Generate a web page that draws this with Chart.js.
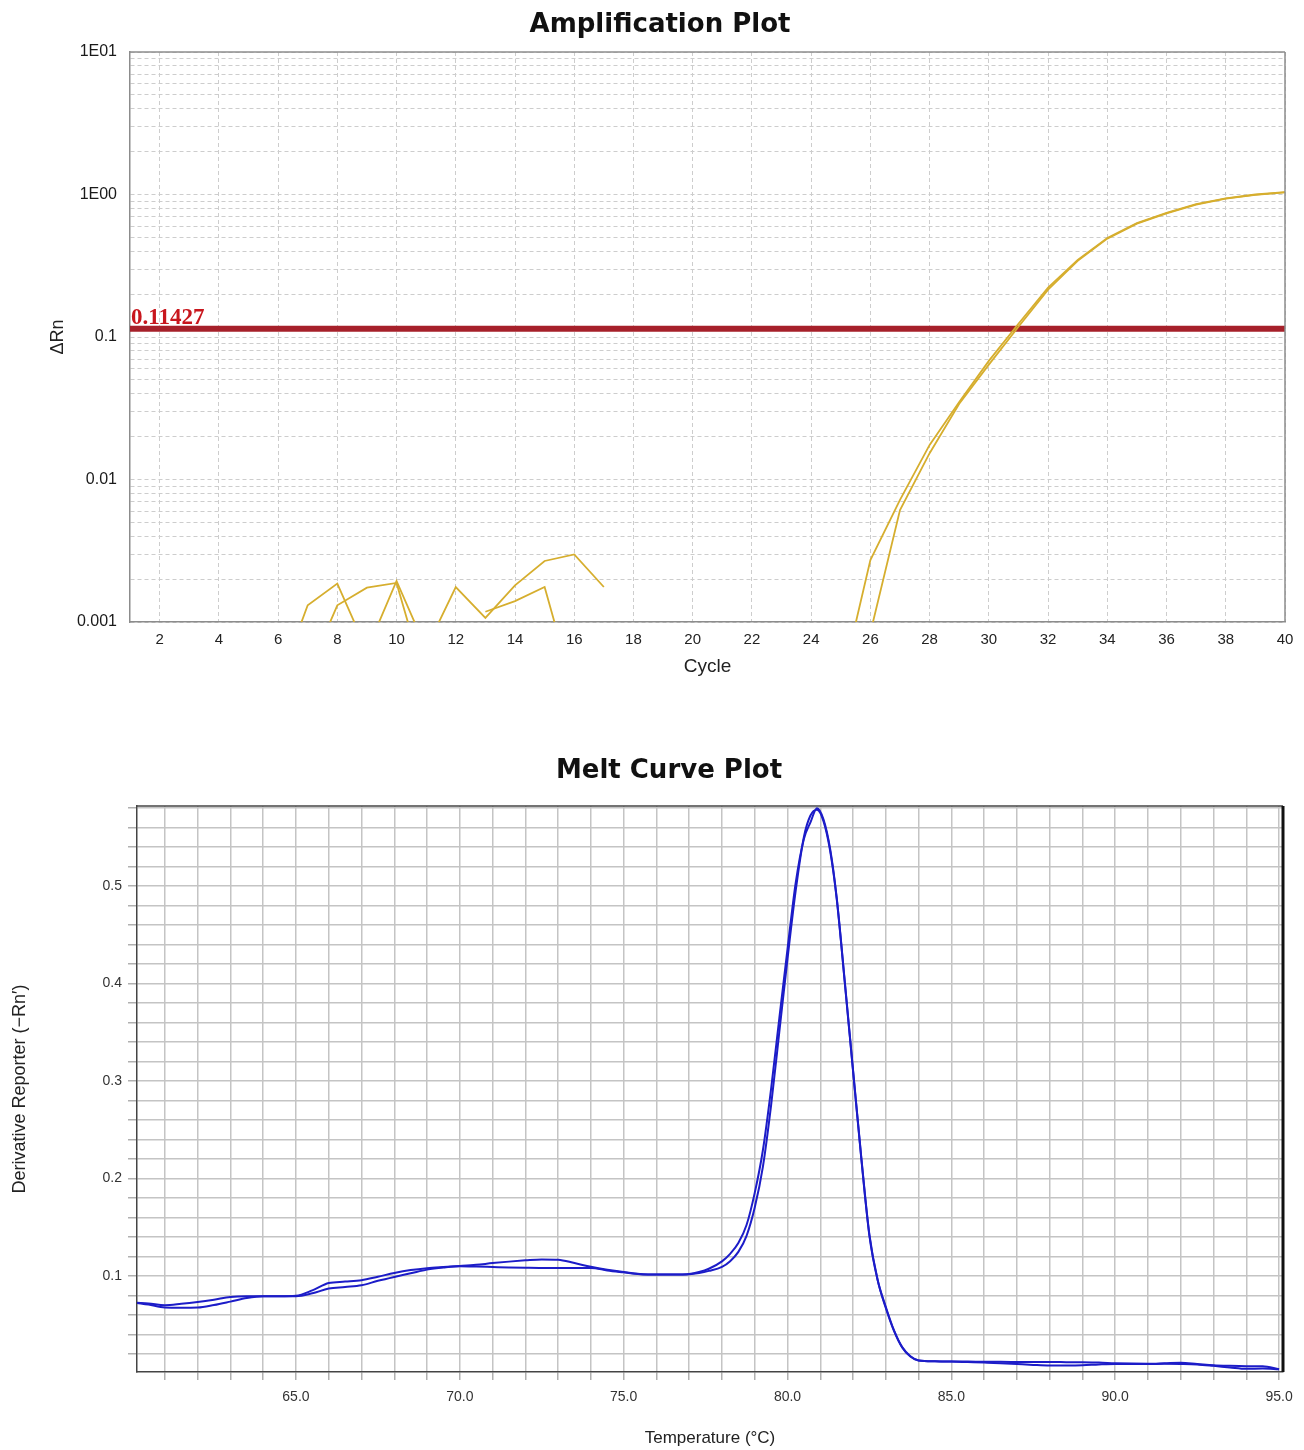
<!DOCTYPE html>
<html>
<head>
<meta charset="utf-8">
<title>Amplification and Melt Curve Plots</title>
<script src="https://cdn.jsdelivr.net/npm/chart.js@4.4.1/dist/chart.umd.min.js"></script>
<style>
  html, body { margin: 0; padding: 0; background: #ffffff; }
  #page { position: relative; width: 1304px; height: 1450px; overflow: hidden; background: #ffffff; }
  canvas { position: absolute; left: 0; }
  .plot-title {
    position: absolute;
    font: bold 26px "DejaVu Sans", Verdana, sans-serif;
    line-height: 1;
    color: #111111;
    white-space: nowrap;
    transform: translate(-50%, -50%);
  }
</style>
</head>
<body>
<div id="page">
  <canvas id="amp" width="1304" height="700" style="top:0px"></canvas>
  <canvas id="melt" width="1304" height="750" style="top:700px"></canvas>
  <div class="plot-title" style="left:660px; top:23px">Amplification Plot</div>
  <div class="plot-title" style="left:669px; top:769px">Melt Curve Plot</div>
</div>
<script>
// ---------- Amplification plot data (ΔRn per cycle, log scale) ----------
const cycles = [1, 2, 3, 4, 5, 6, 7, 8, 9, 10, 11, 12, 13, 14, 15, 16, 17, 18, 19, 20,
                21, 22, 23, 24, 25, 26, 27, 28, 29, 30, 31, 32, 33, 34, 35, 36, 37, 38, 39, 40];

// null = non-positive ΔRn, not drawable on a log axis
const sampleA = [null, null, null, null, null, 0.00036, 0.00131, 0.00186, 0.00063, 0.00194,
                 0.00065, 0.00176, 0.00107, 0.00181, 0.00268, 0.00298, 0.00176, null, null, null,
                 null, null, null, null, 0.00035, 0.00272, 0.0072, 0.0175, 0.035, 0.068,
                 0.124, 0.222, 0.348, 0.495, 0.63, 0.742, 0.855, 0.94, 1.0, 1.04];

const sampleB = [null, null, null, null, null, null, 0.00043, 0.00131, 0.00174, 0.00188,
                 0.00036, null, 0.00118, 0.0014, 0.00176, 0.00032, null, null, null, null,
                 null, null, null, null, null, 0.00084, 0.0061, 0.0153, 0.034, 0.064,
                 0.118, 0.215, 0.342, 0.49, 0.625, 0.737, 0.85, 0.935, 0.995, 1.035];

const threshold = 0.11427;
const thresholdText = "0.11427";

const cycleTicks = [2, 4, 6, 8, 10, 12, 14, 16, 18, 20, 22, 24, 26, 28, 30, 32, 34, 36, 38, 40];
const deltaRnDecades = [0.001, 0.01, 0.1, 1, 10];
const deltaRnDecadeLabels = ["0.001", "0.01", "0.1", "1E00", "1E01"];
const logMultipliers = [1, 2, 3, 4, 5, 6, 7, 8, 9];

// ---------- Melt curve data (derivative reporter vs temperature) ----------
const tempC = [60.15, 60.5, 61, 61.5, 62, 62.5, 63, 63.5, 64, 64.5,
               65, 65.5, 66, 66.5, 67, 67.5, 68, 68.5, 69, 69.5,
               70, 70.5, 71, 71.5, 72, 72.5, 73, 73.5, 74, 74.5,
               75, 75.5, 76, 76.5, 77, 77.3, 77.6, 78, 78.25, 78.5,
               78.75, 79, 79.25, 79.5, 79.75, 80, 80.25, 80.5, 80.7, 80.9,
               81.1, 81.3, 81.5, 81.75, 82, 82.25, 82.5, 82.75, 83, 83.25,
               83.5, 83.75, 84, 84.5, 85, 85.5, 86, 86.5, 87, 87.5,
               88, 88.5, 89, 89.5, 90, 90.5, 91, 91.5, 92, 92.5,
               93, 93.5, 94, 94.5, 95];

const meltA = [0.0722, 0.0716, 0.0698, 0.0712, 0.0731, 0.0755, 0.0783, 0.0790, 0.0790, 0.0790,
               0.0795, 0.0850, 0.0925, 0.0940, 0.0955, 0.0990, 0.1028, 0.1058, 0.1078, 0.1090,
               0.1100, 0.1112, 0.1130, 0.1145, 0.1158, 0.1168, 0.1165, 0.1130, 0.1092, 0.1062,
               0.1038, 0.1018, 0.1012, 0.1012, 0.1018, 0.1038, 0.1072, 0.1148, 0.1225, 0.1335,
               0.1520, 0.1850, 0.2290, 0.2920, 0.3640, 0.4350, 0.5030, 0.5480, 0.5650, 0.5796,
               0.5680, 0.5380, 0.4880, 0.4010, 0.3110, 0.2220, 0.1420, 0.0960, 0.0680, 0.0440,
               0.0268, 0.0175, 0.0132, 0.0123, 0.0120, 0.0120, 0.0117, 0.0117, 0.0116, 0.0115,
               0.0115, 0.0114, 0.0113, 0.0110, 0.0103, 0.0099, 0.0098, 0.0103, 0.0109, 0.0096,
               0.0082, 0.0076, 0.0073, 0.0072, 0.0042];

const meltB = [0.0722, 0.0705, 0.0674, 0.0672, 0.0674, 0.0700, 0.0735, 0.0772, 0.0790, 0.0790,
               0.0790, 0.0820, 0.0869, 0.0885, 0.0903, 0.0948, 0.0988, 0.1025, 0.1063, 0.1085,
               0.1098, 0.1095, 0.1090, 0.1085, 0.1082, 0.1080, 0.1080, 0.1080, 0.1080, 0.1055,
               0.1035, 0.1016, 0.1012, 0.1012, 0.1015, 0.1028, 0.1050, 0.1092, 0.1150, 0.1245,
               0.1410, 0.1700, 0.2120, 0.2750, 0.3500, 0.4250, 0.4950, 0.5500, 0.5720, 0.5780,
               0.5660, 0.5360, 0.4870, 0.4000, 0.3100, 0.2210, 0.1410, 0.0955, 0.0670, 0.0435,
               0.0265, 0.0172, 0.0130, 0.0122, 0.0120, 0.0115, 0.0110, 0.0104, 0.0095, 0.0086,
               0.0080, 0.0080, 0.0082, 0.0090, 0.0095, 0.0095, 0.0095, 0.0097, 0.0095, 0.0090,
               0.0076, 0.0060, 0.0046, 0.0048, 0.0040];

const tempGridTicks = [61, 62, 63, 64, 65, 66, 67, 68, 69, 70, 71, 72, 73, 74, 75, 76, 77, 78,
                       79, 80, 81, 82, 83, 84, 85, 86, 87, 88, 89, 90, 91, 92, 93, 94, 95];
const tempLabelTicks = [65, 70, 75, 80, 85, 90, 95];
const derivGridTicks = [0.02, 0.04, 0.06, 0.08, 0.10, 0.12, 0.14, 0.16, 0.18, 0.20,
                        0.22, 0.24, 0.26, 0.28, 0.30, 0.32, 0.34, 0.36, 0.38, 0.40,
                        0.42, 0.44, 0.46, 0.48, 0.50, 0.52, 0.54, 0.56, 0.58];
const derivLabelTicks = [0.1, 0.2, 0.3, 0.4, 0.5];

// ---------- helpers ----------
const near = (a, b) => Math.abs(a - b) < 1e-9 * Math.max(1, Math.abs(b));
const toPoints = (xs, ys) => xs.map((x, i) => ({ x: x, y: ys[i] }));

const deltaRnTicks = [];
deltaRnDecades.forEach((d, i) => {
  if (i === deltaRnDecades.length - 1) { deltaRnTicks.push(d); return; }
  logMultipliers.forEach(m => deltaRnTicks.push(parseFloat((m * d).toPrecision(6))));
});

const sansFont = '"Liberation Sans", Arial, sans-serif';

// Closes the plot frame on the top and right sides
function framePlugin(topColor, topWidth, rightColor, rightWidth) {
  return {
    id: 'plotFrame',
    afterDraw(chart) {
      const { ctx, chartArea: a } = chart;
      ctx.save();
      ctx.strokeStyle = topColor; ctx.lineWidth = topWidth;
      ctx.beginPath(); ctx.moveTo(a.left, a.top); ctx.lineTo(a.right, a.top); ctx.stroke();
      ctx.strokeStyle = rightColor; ctx.lineWidth = rightWidth;
      ctx.beginPath(); ctx.moveTo(a.right, a.top); ctx.lineTo(a.right, a.bottom); ctx.stroke();
      ctx.restore();
    }
  };
}

// Writes the threshold value just above the threshold line
const thresholdLabelPlugin = {
  id: 'thresholdLabel',
  afterDatasetsDraw(chart) {
    const { ctx, chartArea: a, scales } = chart;
    const y = scales.y.getPixelForValue(threshold);
    ctx.save();
    ctx.font = 'bold 23px "Liberation Serif", "Times New Roman", serif';
    ctx.fillStyle = '#c8161d';
    ctx.textAlign = 'left';
    ctx.textBaseline = 'alphabetic';
    ctx.fillText(thresholdText, a.left + 1, y - 5);
    ctx.restore();
  }
};

// ---------- Amplification plot ----------
const gold = '#d6ae2e';
new Chart(document.getElementById('amp'), {
  type: 'line',
  data: {
    datasets: [
      { label: 'Sample A', data: toPoints(cycles, sampleA), borderColor: gold, borderWidth: 1.8,
        pointRadius: 0, tension: 0, spanGaps: false },
      { label: 'Sample B', data: toPoints(cycles, sampleB), borderColor: gold, borderWidth: 1.8,
        pointRadius: 0, tension: 0, spanGaps: false },
      { label: 'Threshold',
        data: [{ x: cycles[0], y: threshold }, { x: cycles[cycles.length - 1], y: threshold }],
        borderColor: '#a6202a', borderWidth: 6, pointRadius: 0 }
    ]
  },
  options: {
    responsive: false,
    animation: false,
    events: [],
    layout: { padding: { top: 52, right: 19, bottom: 18, left: 0 } },
    plugins: { legend: { display: false }, title: { display: false }, tooltip: { enabled: false } },
    scales: {
      x: {
        type: 'linear', min: 1, max: 40,
        afterBuildTicks: s => { s.ticks = cycleTicks.map(v => ({ value: v })); },
        afterFit: s => { s.height = 60; },
        ticks: { autoSkip: false, maxRotation: 0, padding: 9, color: '#222222',
                 font: { family: sansFont, size: 15 }, callback: v => String(v) },
        grid: { color: '#cdcdcd', lineWidth: 1, drawTicks: false },
        border: { display: true, color: '#8c8c8c', width: 1.5, dash: [4, 3] },
        title: { display: true, text: 'Cycle', color: '#222222',
                 font: { family: sansFont, size: 19 }, padding: { top: 0, bottom: 4 } }
      },
      y: {
        type: 'logarithmic', min: 0.001, max: 10,
        afterBuildTicks: s => { s.ticks = deltaRnTicks.map(v => ({ value: v })); },
        afterFit: s => { s.width = 130; },
        ticks: { autoSkip: false, padding: 13, color: '#1a1a1a',
                 font: { family: sansFont, size: 16 },
                 callback: v => {
                   const i = deltaRnDecades.findIndex(d => near(v, d));
                   return i >= 0 ? deltaRnDecadeLabels[i] : '';
                 } },
        grid: { color: '#cdcdcd', lineWidth: 1, drawTicks: false },
        border: { display: true, color: '#8c8c8c', width: 1.5, dash: [4, 3] },
        title: { display: true, text: 'ΔRn', color: '#222222',
                 font: { family: sansFont, size: 18 }, padding: { top: 47, bottom: 0 } }
      }
    }
  },
  plugins: [framePlugin('#8c8c8c', 1.5, '#8c8c8c', 1.5), thresholdLabelPlugin]
});

// ---------- Melt curve plot ----------
const blue = '#1c1cc8';
new Chart(document.getElementById('melt'), {
  type: 'line',
  data: {
    datasets: [
      { label: 'Well 1', data: toPoints(tempC, meltA), borderColor: blue, borderWidth: 2,
        pointRadius: 0, cubicInterpolationMode: 'monotone' },
      { label: 'Well 2', data: toPoints(tempC, meltB), borderColor: blue, borderWidth: 2,
        pointRadius: 0, cubicInterpolationMode: 'monotone' }
    ]
  },
  options: {
    responsive: false,
    animation: false,
    events: [],
    layout: { padding: { top: 106, right: 21, bottom: 0, left: 0 } },
    plugins: { legend: { display: false }, title: { display: false }, tooltip: { enabled: false } },
    scales: {
      x: {
        type: 'linear', min: 60.15, max: 95.12,
        afterBuildTicks: s => { s.ticks = tempGridTicks.map(v => ({ value: v })); },
        afterFit: s => { s.height = 78; },
        ticks: { autoSkip: false, maxRotation: 0, padding: 8.6, color: '#333333',
                 font: { family: sansFont, size: 14 },
                 callback: v => tempLabelTicks.some(t => near(v, t)) ? v.toFixed(1) : '' },
        grid: { color: '#c4c4c4', lineWidth: 1.5, drawTicks: true, tickLength: 8, tickColor: '#b0b0b0' },
        border: { display: true, color: '#444444', width: 1.5 },
        title: { display: true, text: 'Temperature (°C)', color: '#222222',
                 font: { family: sansFont, size: 17 }, padding: { top: 0, bottom: 1.8 } }
      },
      y: {
        type: 'linear', min: 0.0013, max: 0.5818,
        afterBuildTicks: s => { s.ticks = derivGridTicks.map(v => ({ value: v })); },
        afterFit: s => { s.width = 137; },
        ticks: { autoSkip: false, padding: 6, color: '#333333',
                 font: { family: sansFont, size: 14 },
                 callback: v => derivLabelTicks.some(t => near(v, t)) ? v.toFixed(1) : '' },
        grid: { color: '#c4c4c4', lineWidth: 1.5, drawTicks: true, tickLength: 9, tickColor: '#b0b0b0' },
        border: { display: true, color: '#444444', width: 1.5 },
        title: { display: true, text: 'Derivative Reporter (−Rn′)', color: '#222222',
                 font: { family: sansFont, size: 18 }, padding: { top: 9.2, bottom: 0 } }
      }
    }
  },
  plugins: [framePlugin('#444444', 1.5, '#111111', 3)]
});
</script>
</body>
</html>
